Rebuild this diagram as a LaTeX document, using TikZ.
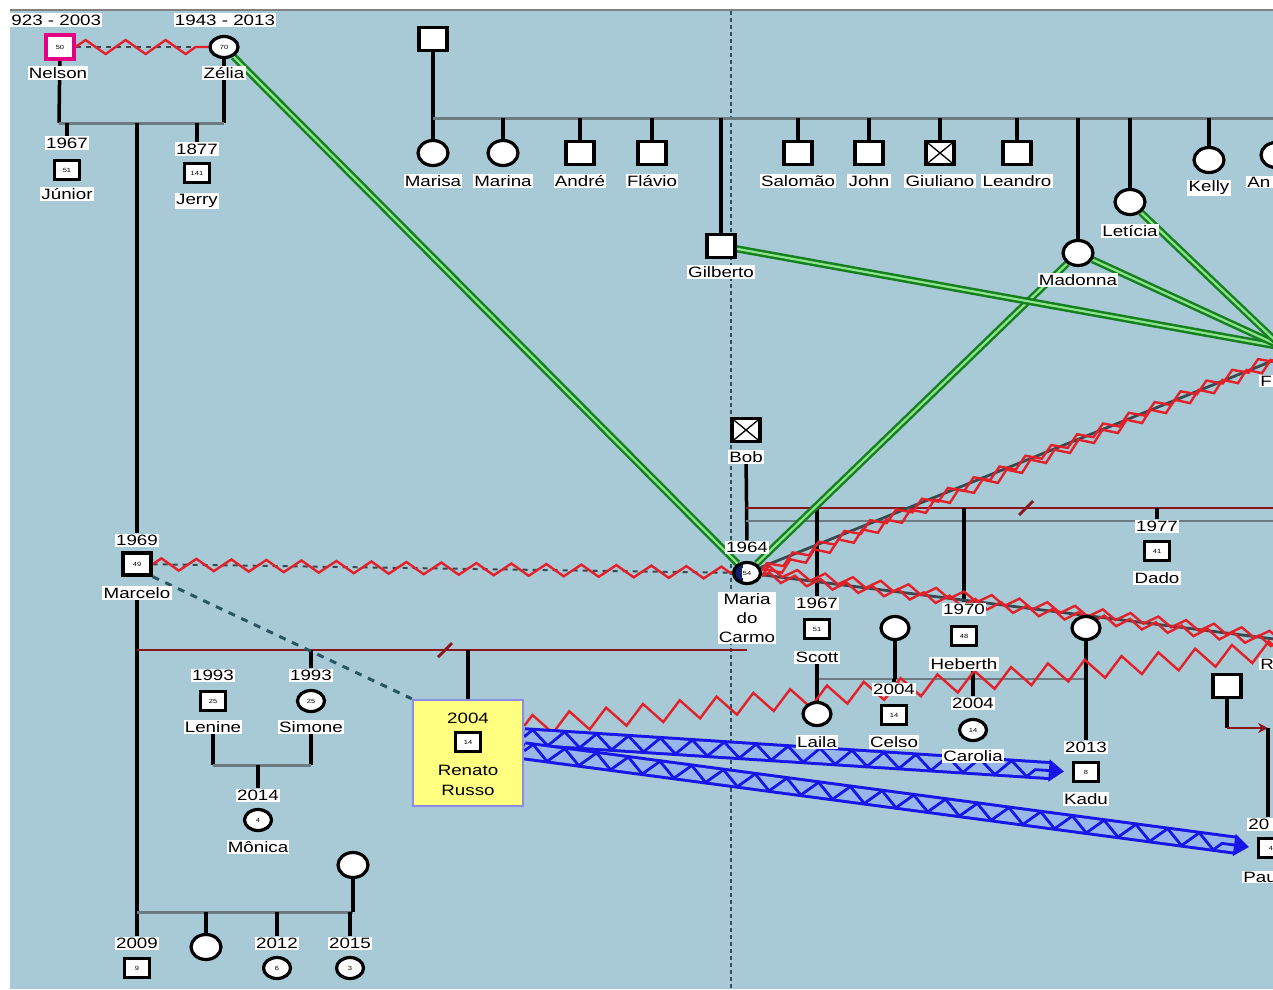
\documentclass[tikz,border=0pt]{standalone}
\usepackage{fontspec}
\setmainfont{Liberation Sans}[FakeStretch=1.25]
\usetikzlibrary{shapes.geometric,decorations.pathmorphing,arrows.meta,calc}
\definecolor{bgc}{RGB}{168,202,215}
\definecolor{redz}{RGB}{228,32,40}
\definecolor{darkline}{RGB}{58,72,80}
\definecolor{gdark}{RGB}{22,128,32}
\definecolor{glight}{RGB}{140,228,140}
\definecolor{bblue}{RGB}{22,22,232}
\definecolor{bfill}{RGB}{150,182,236}
\definecolor{sibgray}{RGB}{108,122,130}
\definecolor{mred}{RGB}{138,22,28}
\definecolor{dashv}{RGB}{50,78,98}
\definecolor{yellowc}{RGB}{255,255,128}
\definecolor{ypurple}{RGB}{140,140,232}
\definecolor{pinkc}{RGB}{228,0,130}
\definecolor{navyc}{RGB}{20,30,110}
\definecolor{tealc}{RGB}{40,84,100}
\pgfdeclarelayer{bgl}
\pgfdeclarelayer{edges}
\pgfsetlayers{bgl,edges,main}
\tikzset{
 sym/.style={draw=black, line width=3.2pt, fill=white, inner sep=0pt, font=\fontsize{6}{6}\selectfont},
 male/.style={sym, rectangle, minimum width=25pt, minimum height=19pt},
 female/.style={sym, ellipse, minimum width=27pt, minimum height=21pt},
 bmale/.style={sym, rectangle, minimum width=28pt, minimum height=23pt},
 bfemale/.style={sym, ellipse, minimum width=30pt, minimum height=25pt},
 xmark/.style={path picture={\draw[black,line width=1.3pt] (path picture bounding box.north west) -- (path picture bounding box.south east) (path picture bounding box.south west) -- (path picture bounding box.north east);}},
 lbl/.style={fill=white, inner sep=1.2pt, font=\fontsize{15}{17}\selectfont},
 edgelbl/.style={lbl, anchor=west, text width=34pt, align=left},
 stemline/.style={draw=black, line width=3.5pt},
 sibline/.style={draw=sibgray, line width=3pt},
 marline/.style={draw=mred, line width=2.8pt},
 hostz/.style 2 args={draw=redz, line width=2.4pt, line join=miter, decorate, decoration={zigzag, amplitude=#1, segment length=#2}},
 darkdash/.style={draw=darkline, line width=2pt, dash pattern=on 5pt off 5pt},
 darkrel/.style={draw=darkline, line width=2.8pt},
 greenrel/.style={draw=gdark, double=glight, double distance=2.2pt, line width=2.5pt},
 bband/.style={draw=bblue, double=bfill, double distance=13pt, line width=3pt},
 bzig/.style={draw=bblue, line width=2.8pt, decorate, decoration={zigzag, amplitude=7.5pt, segment length=32pt}},
 tealdash/.style={draw=tealc, line width=3pt, dash pattern=on 7pt off 7pt}
}
\begin{document}
\begin{tikzpicture}[x=1pt,y=-1pt]
\useasboundingbox (0,0) rectangle (1273,989);
\begin{pgfonlayer}{bgl}
\fill[white] (0,0) rectangle (1273,989);
\fill[bgc] (10,11) rectangle (1273,989);
\draw[gray, line width=2.5pt] (10,10) -- (1273,10);
\draw[dashv, line width=1.6pt, dash pattern=on 4pt off 3pt] (731,11) -- (731,989);
\end{pgfonlayer}

% ---------- left family ----------
\node[lbl, anchor=west] (nelsonY) at (10,20) {923 - 2003};
\node[male, draw=pinkc, minimum width=28pt, minimum height=24pt] (nelson) at (60,47) {50};
\node[lbl] (nelsonN) at (58,73) {Nelson};
\node[lbl] (zeliaY) at (225,20) {1943 - 2013};
\node[female, minimum width=28pt] (zelia) at (224,47) {70};
\node[lbl] (zeliaN) at (224,73) {Zélia};
\node[lbl] (juniorY) at (67,143) {1967};
\node[male] (junior) at (67,170) {51};
\node[lbl] (juniorN) at (67,194) {Júnior};
\node[lbl] (jerryY) at (197,149) {1877};
\node[male] (jerry) at (197,173) {141};
\node[lbl] (jerryN) at (197,201) {Jerry};
\node[lbl] (marceloY) at (137,540) {1969};
\node[male, minimum width=28pt, minimum height=22pt] (marcelo) at (137,564) {49};
\node[lbl] (marceloN) at (137,593) {Marcelo};
\node[lbl] (lenineY) at (213,675) {1993};
\node[male] (lenine) at (213,701) {25};
\node[lbl] (lenineN) at (213,727) {Lenine};
\node[lbl] (simoneY) at (311,675) {1993};
\node[female] (simone) at (311,701) {25};
\node[lbl] (simoneN) at (311,727) {Simone};
\node[lbl] (monicaY) at (258,795) {2014};
\node[female] (monica) at (258,820) {4};
\node[lbl] (monicaN) at (258,847) {Mônica};
\node[bfemale] (wife2) at (353,865) {};
\node[lbl] (c2009Y) at (137,943) {2009};
\node[male] (c2009) at (137,968) {9};
\node[bfemale] (c1) at (206,947) {};
\node[lbl] (c2012Y) at (277,943) {2012};
\node[female] (c2012) at (277,968) {6};
\node[lbl] (c2015Y) at (350,943) {2015};
\node[female] (c2015) at (350,968) {3};

% Renato box
\node[draw=ypurple, fill=yellowc, line width=2.5pt, minimum width=110pt, minimum height=106pt, inner sep=0pt] (renato) at (468,753) {};
\node[font=\fontsize{15}{17}\selectfont, inner sep=1pt] (renatoY) at (468,718) {2004};
\node[male] (renatoS) at (468,742) {14};
\node[font=\fontsize{15}{20}\selectfont, align=center, inner sep=1pt] (renatoN) at (468,780) {Renato\\Russo};

% ---------- top family ----------
\node[bmale] (topman) at (433,39) {};
\node[bfemale] (marisa) at (433,153) {};
\node[lbl] (marisaN) at (433,181) {Marisa};
\node[bfemale] (marina) at (503,153) {};
\node[lbl] (marinaN) at (503,181) {Marina};
\node[bmale] (andre) at (580,153) {};
\node[lbl] (andreN) at (580,181) {André};
\node[bmale] (flavio) at (652,153) {};
\node[lbl] (flavioN) at (652,181) {Flávio};
\node[bmale] (gilberto) at (721,246) {};
\node[lbl] (gilbertoN) at (721,272) {Gilberto};
\node[bmale] (salomao) at (798,153) {};
\node[lbl] (salomaoN) at (798,181) {Salomão};
\node[bmale] (john) at (869,153) {};
\node[lbl] (johnN) at (869,181) {John};
\node[bmale, xmark] (giuliano) at (940,153) {};
\node[lbl] (giulianoN) at (940,181) {Giuliano};
\node[bmale] (leandro) at (1017,153) {};
\node[lbl] (leandroN) at (1017,181) {Leandro};
\node[bfemale] (madonna) at (1078,253) {};
\node[lbl] (madonnaN) at (1078,280) {Madonna};
\node[bfemale] (leticia) at (1130,202) {};
\node[lbl] (leticiaN) at (1130,231) {Letícia};
\node[bfemale] (kelly) at (1209,160) {};
\node[lbl] (kellyN) at (1209,188) {Kelly};
\node[bfemale] (anF) at (1276,155) {};
\node[edgelbl] (anN) at (1246,182) {An};

% ---------- middle ----------
\node[bmale, xmark] (bob) at (746,430) {};
\node[lbl] (bobN) at (746,457) {Bob};
\node[lbl] (mariaY) at (747,547) {1964};
\node[female, path picture={\fill[navyc] (path picture bounding box.south west) rectangle ([xshift=-4pt]path picture bounding box.north);}] (maria) at (747,573) {\colorbox{white}{\kern-2pt 54\kern-2pt}};
\node[lbl, align=center, font=\fontsize{15}{19}\selectfont] (mariaN) at (747,618) {Maria\\do\\Carmo};
\node[lbl] (scottY) at (817,603) {1967};
\node[male] (scott) at (817,629) {51};
\node[lbl] (scottN) at (817,657) {Scott};
\node[bfemale, minimum width=28pt, minimum height=23pt] (w895) at (895,628) {};
\node[lbl] (heberthY) at (964,609) {1970};
\node[male] (heberth) at (964,636) {48};
\node[lbl] (heberthN) at (964,664) {Heberth};
\node[bfemale, minimum width=28pt, minimum height=23pt] (w1086) at (1086,628) {};
\node[lbl] (dadoY) at (1157,526) {1977};
\node[male] (dado) at (1157,551) {41};
\node[lbl] (dadoN) at (1157,578) {Dado};
\node[bfemale, minimum width=28pt, minimum height=23pt] (laila) at (817,714) {};
\node[lbl] (lailaN) at (817,742) {Laila};
\node[lbl] (celsoY) at (894,689) {2004};
\node[male] (celso) at (894,715) {14};
\node[lbl] (celsoN) at (894,742) {Celso};
\node[lbl] (caroliaY) at (973,703) {2004};
\node[female] (carolia) at (973,730) {14};
\node[lbl] (caroliaN) at (973,756) {Carolia};
\node[lbl] (kaduY) at (1086,747) {2013};
\node[male] (kadu) at (1086,772) {8};
\node[lbl] (kaduN) at (1086,799) {Kadu};
\node[bmale] (rsq) at (1227,686) {};
\node[edgelbl] (pauloY) at (1247,824) {20};
\node[male] (paulo) at (1271,848) {4};
\node[edgelbl] (pauloN) at (1242,877) {Pau};
\node[edgelbl] (Fn) at (1259,381) {F};
\node[edgelbl] (Rn) at (1259,664) {R};

% junction coordinates
\coordinate (s1L) at (59,123);
\coordinate (s1R) at (224,123);
\coordinate (m1L) at (137,650);
\coordinate (m1R) at (747,650);
\coordinate (sl1) at (445,650);
\coordinate (s3L) at (213,765);
\coordinate (s3R) at (311,765);
\coordinate (s4L) at (137,912);
\coordinate (s4R) at (353,912);
\coordinate (s5L) at (433,118);
\coordinate (s5R) at (1290,118);
\coordinate (b1L) at (746,508);
\coordinate (b1R) at (1290,508);
\coordinate (sl2) at (1026,508);
\coordinate (g1L) at (746,521);
\coordinate (g1R) at (1290,521);
\coordinate (s6L) at (817,679);
\coordinate (s6R) at (1086,679);
\coordinate (pj) at (1268,728);
\coordinate (F) at (1282,357);
\coordinate (Fg) at (1282,347);
\coordinate (R) at (1282,640);
\coordinate (R2) at (1282,650);

\begin{pgfonlayer}{edges}
% left family structure
\draw[stemline] (nelson) -- (s1L);
\draw[stemline] (zelia) -- (s1R);
\draw[sibline] (s1L) -- (s1R);
\draw[stemline] (juniorY) -- (juniorY |- s1L);
\draw[stemline] (jerryY) -- (jerryY |- s1L);
\draw[stemline] (marceloY) -- (marceloY |- s1L);
\draw[stemline] (marceloN) -- (c2009Y);
\draw[marline] (m1L) -- (m1R);
\draw[marline] ([shift={(-7,7)}]sl1) -- ([shift={(7,-7)}]sl1);
\draw[stemline] (renato.north) -- (renato.north |- m1L);
\draw[stemline] (simoneY) -- (simoneY |- m1L);
\draw[stemline] (lenineN) -- (s3L);
\draw[stemline] (simoneN) -- (s3R);
\draw[sibline] (s3L) -- (s3R);
\draw[stemline] (monicaY) -- (monicaY |- s3L);
\draw[sibline] (s4L) -- (s4R);
\draw[stemline] (wife2) -- (s4R);
\draw[stemline] (c1) -- (c1 |- s4L);
\draw[stemline] (c2012Y) -- (c2012Y |- s4L);
\draw[stemline] (c2015Y) -- (c2015Y |- s4L);

% top family structure
\draw[stemline] (topman) -- (marisa);
\draw[sibline] (s5L) -- (s5R);
\foreach \n in {marina,andre,flavio,gilberto,salomao,john,giuliano,leandro,madonna,leticia,kelly,anF}
  \draw[stemline] (\n) -- (\n |- s5L);

% Bob structure
\draw[stemline] (bobN) -- (mariaY);
\draw[marline] (b1L) -- (b1R);
\draw[marline] ([shift={(-7,7)}]sl2) -- ([shift={(7,-7)}]sl2);
\draw[sibline, line width=2.6pt] (g1L) -- (g1R);
\draw[stemline] (scottY) -- (scottY |- b1L);
\draw[stemline] (heberthY) -- (heberthY |- b1L);
\draw[stemline] (dadoY) -- (dadoY |- b1L);

% Scott structure
\draw[sibline, line width=2.6pt] (s6L) -- (s6R);
\draw[stemline] (scottN) -- (laila);
\draw[stemline] (w895) -- (w895 |- s6L);
\draw[stemline] (celsoY) -- (celsoY |- s6L);
\draw[stemline] (w1086) -- (kaduY);
\draw[stemline] (caroliaY) -- (caroliaY |- heberthN.south);

% right square
\draw[stemline] (rsq) -- (rsq |- pj);
\draw[marline, -{Stealth[length=10pt,width=10pt]}] (rsq |- pj) -- (pj);
\draw[stemline] (pj) -- (pj |- pauloY.north);

% green relations
\draw[greenrel] (zelia) -- (maria);
\draw[greenrel] (maria) -- (madonna);
\draw[greenrel] (gilberto) -- (Fg);
\draw[greenrel] (madonna) -- (Fg);
\draw[greenrel] (leticia) -- (Fg);

% hostile relations
\draw[darkdash] (nelson) -- (zelia);
\draw[hostz={7pt}{40pt}] (nelson) -- (zelia);
\draw[darkdash] (marcelo) -- (maria);
\draw[hostz={6pt}{35pt}] (marcelo) -- (maria);
\draw[darkrel] (maria) -- (F);
\draw[hostz={4.5pt}{28pt}] ([yshift=3pt]maria.east) -- ([yshift=3pt]F);
\draw[hostz={4.5pt}{26pt}] ([yshift=-3pt]maria.east) -- ([yshift=-3pt]F);
\draw[darkrel] (maria) -- (R);
\draw[hostz={4.5pt}{28pt}] ([yshift=3pt]maria.east) -- ([yshift=3pt]R);
\draw[hostz={4.5pt}{26pt}] ([yshift=-3pt]maria.east) -- ([yshift=-3pt]R);
\draw[hostz={10pt}{37pt}] ($(renato.north east)!0.25!(renato.south east)$) -- (R2);

% dashed distant relation
\draw[tealdash] (marcelo.south east) -- (renato.north west);

% blue bands
\coordinate (rb1) at ($(renato.north east)!0.35!(renato.south east)$);
\coordinate (rb2) at ($(renato.north east)!0.48!(renato.south east)$);
\coordinate (k1e) at ($(kadu.west)!21pt!(rb1)$);
\coordinate (p1e) at ($(paulo.west)!21pt!(rb2)$);
\draw[bband] (rb1) -- (k1e);
\draw[bzig] (rb1) -- (k1e);
\draw[draw=bblue, line width=2pt, -{Triangle[length=15pt,width=22pt]}] ($(kadu.west)!26pt!(rb1)$) -- ($(kadu.west)!8pt!(rb1)$);
\draw[bband] (rb2) -- (p1e);
\draw[bzig] (rb2) -- (p1e);
\draw[draw=bblue, line width=2pt, -{Triangle[length=15pt,width=22pt]}] ($(paulo.west)!26pt!(rb2)$) -- ($(paulo.west)!8pt!(rb2)$);
\end{pgfonlayer}
\end{tikzpicture}
\end{document}
